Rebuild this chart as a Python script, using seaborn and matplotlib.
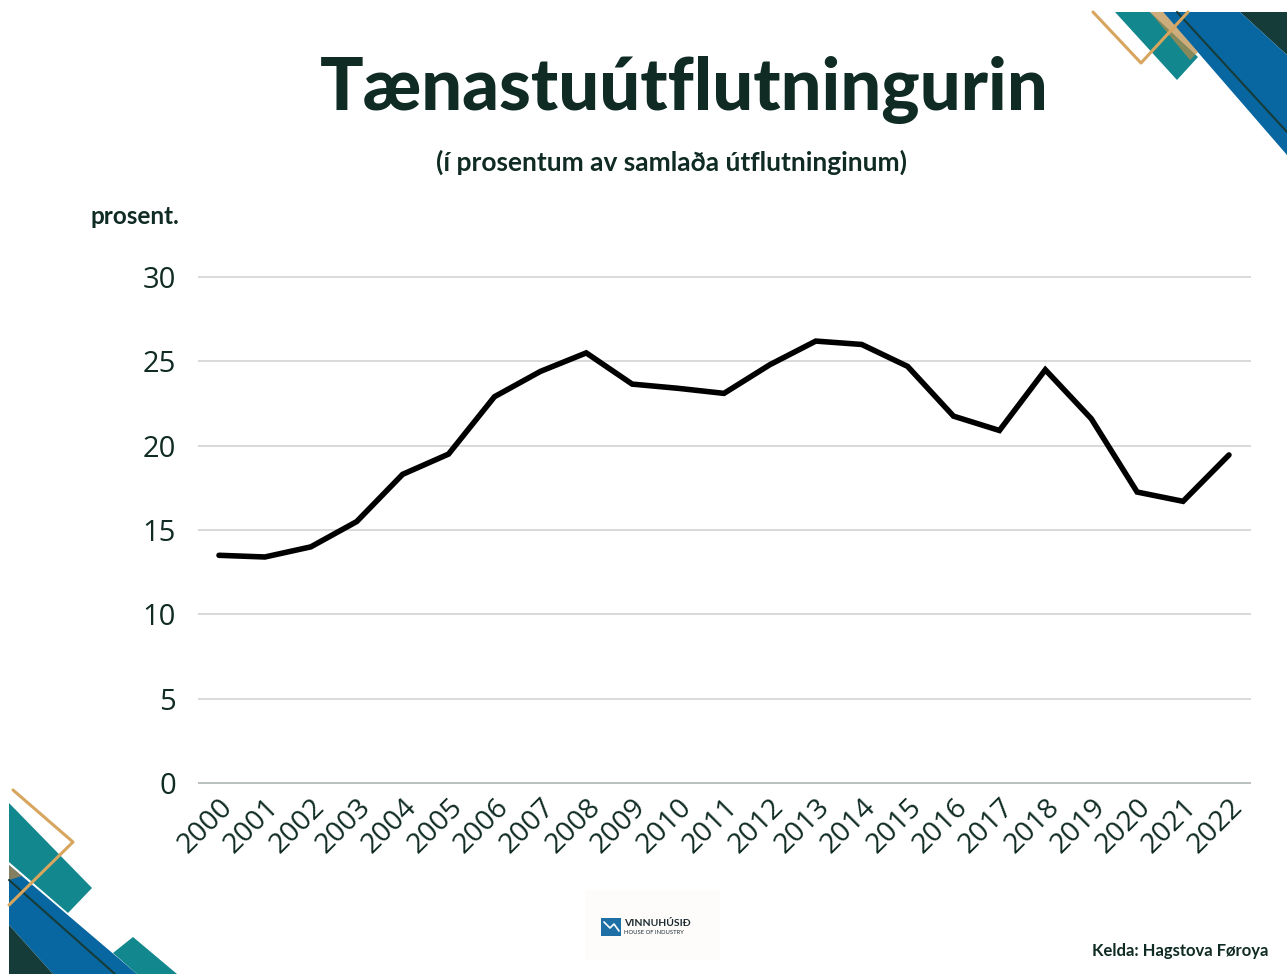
import numpy as np
import pandas as pd
import matplotlib
matplotlib.use("Agg")
import matplotlib.pyplot as plt
from matplotlib.patches import Polygon, Rectangle
import seaborn as sns

# data
years = list(range(2000, 2023))
share = [13.5, 13.4, 14.0, 15.5, 18.3, 19.5, 22.9, 24.4, 25.5, 23.65, 23.4, 23.1,
         24.8, 26.2, 26.0, 24.7, 21.75, 20.9, 24.5, 21.6, 17.25, 16.7, 19.45]
yticks = [0, 5, 10, 15, 20, 25, 30]

title = "Tænastuútflutningurin"
subtitle = "(í prosentum av samlaða útflutninginum)"
ylab = "prosent."
source = "Kelda: Hagstova Føroya"

TXT = "#0f2b24"
W, H = 1287, 974

sns.set_theme(style="white")
plt.rcParams["font.family"] = ["Lato", "DejaVu Sans"]

df = pd.DataFrame({"year": years, "share": share})

fig = plt.figure(figsize=(W / 100, H / 100), dpi=100)
fig.patch.set_facecolor("white")


def px(x, y):
    return (x / W, 1 - y / H)


ax = fig.add_axes([198 / W, 1 - 784.7 / H, (1251 - 198) / W, (784.7 - 275.3) / H])
for v in yticks:
    ax.axhline(v, color="#b9c0bd" if v == 0 else "#d9d9d9", lw=1.4, zorder=0)
sns.lineplot(data=df, x="year", y="share", color="black", lw=4.0, ax=ax,
             solid_joinstyle="miter")
ax.set_xlim(2000 - 0.457, 2022 + 0.48)
ax.set_ylim(-0.1, 30.1)
tick_font = ["Open Sans", "DejaVu Sans"]
ax.set_yticks(yticks)
ax.set_yticklabels([str(v) for v in yticks], fontsize=21, color=TXT, family=tick_font)
ax.set_xticks(years)
ax.set_xticklabels([str(y) for y in years], rotation=45, ha="right", rotation_mode="anchor",
                   fontsize=20.5, color=TXT, family=tick_font)
ax.tick_params(axis="y", pad=16, length=0)
ax.tick_params(axis="x", pad=6, length=0)
ax.set_xlabel("")
ax.set_ylabel("")
for s in ax.spines.values():
    s.set_visible(False)
ax.set_facecolor("none")

fig.text(*px(684, 90), title, ha="center", va="center", fontsize=52, fontweight="black", color=TXT)
fig.text(*px(671, 162), subtitle, ha="center", va="center", fontsize=19, fontweight="bold", color=TXT)
fig.text(*px(90, 217), ylab, ha="left", va="center", fontsize=17.5, fontweight="bold", color=TXT)
fig.text(*px(1268, 951), source, ha="right", va="center", fontsize=12, fontweight="bold", color=TXT)


# corner decorations
def poly(pts, color, z=1, **kw):
    fig.patches.append(Polygon([px(x, y) for x, y in pts], closed=True, facecolor=color,
                               edgecolor="none", transform=fig.transFigure, zorder=z, **kw))


def stroke(pts, color, lw, z=3):
    xs, ys = zip(*[px(x, y) for x, y in pts])
    fig.lines.append(plt.Line2D(xs, ys, color=color, lw=lw, transform=fig.transFigure, zorder=z))


BLUE, TEAL, DARK, GOLD = "#0867a0", "#12878e", "#163c3a", "#d7a55e"
# top right
poly([(1240, 12), (1287, 12), (1287, 55)], DARK)
poly([(1163, 12), (1240, 12), (1287, 55), (1287, 155)], BLUE)
stroke([(1177, 12), (1287, 132)], DARK, 1.5)
poly([(1115, 12), (1150, 12), (1198, 57), (1177, 80)], TEAL)
poly([(1150, 12), (1163, 12), (1198, 52), (1190, 60)], "#b88a45", z=2, alpha=0.7)
stroke([(1093, 12), (1141, 63), (1188, 12)], GOLD, 2.2)
# bottom left
poly([(9, 803), (92, 888), (68, 913), (9, 862)], TEAL)
poly([(9, 865), (137, 974), (53, 974), (9, 925)], BLUE)
poly([(9, 865), (22, 876), (9, 880)], "#b88a45", z=2, alpha=0.7)
poly([(9, 925), (53, 974), (9, 974)], DARK)
stroke([(9, 880), (115, 974)], DARK, 1.5)
poly([(113, 953), (133, 937), (177, 974), (137, 974)], TEAL)
stroke([(13, 790), (73, 842), (9, 905)], GOLD, 2.2)

# logo
fig.patches.append(Rectangle(px(585, 960), 135 / W, 70 / H, transform=fig.transFigure,
                             facecolor="#fdfcfa", edgecolor="none", zorder=1))
fig.patches.append(Rectangle(px(601, 936), 20 / W, 18 / H, transform=fig.transFigure,
                             facecolor="#1d6fa5", edgecolor="none", zorder=2))
stroke([(604, 922), (610, 928), (614, 924), (619, 931)], "white", 1.2, z=4)
fig.text(*px(624, 923), "VINNUHÚSIÐ", ha="left", va="center", fontsize=7.5, fontweight="bold", color="#1c2a30")
fig.text(*px(624, 933), "HOUSE OF INDUSTRY", ha="left", va="center", fontsize=4.2, color="#1c2a30")

fig.savefig("out.png", dpi=100, facecolor="white")
